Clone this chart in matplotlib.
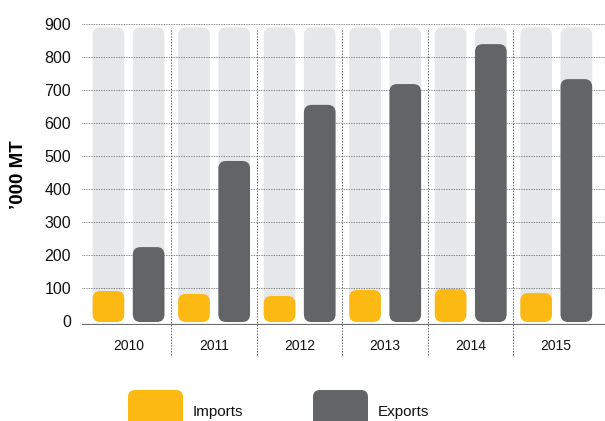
import numpy as np
import matplotlib.pyplot as plt
from matplotlib.patches import FancyBboxPatch

plt.rcParams['font.family'] = ['Liberation Sans', 'DejaVu Sans']

# Dados
years = ["2010", "2011", "2012", "2013", "2014", "2015"]
imports = [91, 82, 76, 94, 97, 85]
exports = [224, 485, 655, 718, 839, 733]
y_ticks = [0, 100, 200, 300, 400, 500, 600, 700, 800, 900]

orange = "#FDB913"
dark = "#636466"
light = "#E6E7E8"

fig = plt.figure(figsize=(6.05, 4.21), dpi=100)
ax = fig.add_axes([82 / 605, (421 - 325) / 421, 1 - 82 / 605, (325 - 24) / 421])
ax.set_xlim(-0.544, 5.57)
ax.set_ylim(-12, 900)

# fator para arredondar cantos igualmente em x e y
fig.canvas.draw()
bb = ax.get_window_extent()
px_x = bb.width / (5.57 + 0.544)
px_y = bb.height / 912
aspect = px_x / px_y

w = 0.37
off = 0.235
r = 0.09


def rbar(x, top, color, bottom=-3, z=2):
    p = FancyBboxPatch((x - w / 2, bottom), w, top - bottom,
                       boxstyle=f"round,pad=0,rounding_size={r}",
                       mutation_aspect=aspect, fc=color, ec="none", zorder=z)
    ax.add_patch(p)


x = np.arange(len(years))
for i in x:
    rbar(i - off, 890, light, bottom=0, z=1)
    rbar(i + off, 890, light, bottom=0, z=1)
    rbar(i - off, imports[i], orange)
    rbar(i + off, exports[i], dark)

# linhas de grade pontilhadas
for t in y_ticks[1:]:
    ax.axhline(t, color="#666666", lw=0.6, ls=(0, (1, 1)), zorder=1.5)

# separadores verticais entre os anos
for s in x[:-1] + 0.5:
    ax.plot([s, s], [-103, 888], color="#666666", lw=0.7, ls=(0, (1.5, 1.5)),
            zorder=1.5, clip_on=False)

ax.axhline(-12, color="#6d6e70", lw=1.6, zorder=3)

for sp in ax.spines.values():
    sp.set_visible(False)
ax.set_yticks(y_ticks)
ax.set_yticklabels([str(t) for t in y_ticks], fontsize=11.5, color="#111111")
ax.set_xticks(x)
ax.set_xticklabels(years, fontsize=10, color="#111111")
ax.tick_params(axis="y", length=0, pad=8)
ax.tick_params(axis="x", length=0, pad=10)
ax.set_ylabel("\u2019000 MT", fontsize=13.5, fontweight="bold", labelpad=12)

# legenda
lg = fig.add_axes([0, 0, 1, 1], zorder=-1)
lg.set_xlim(0, 605)
lg.set_ylim(421, 0)
lg.axis("off")
for x0, color, label in [(128, orange, "Imports"), (313, dark, "Exports")]:
    lg.add_patch(FancyBboxPatch((x0, 390), 55, 40,
                                boxstyle="round,pad=0,rounding_size=7",
                                fc=color, ec="none"))
    lg.text(x0 + 65, 412, label, fontsize=11, va="center", ha="left",
            color="#111111")

fig.savefig("out.png", dpi=100)
